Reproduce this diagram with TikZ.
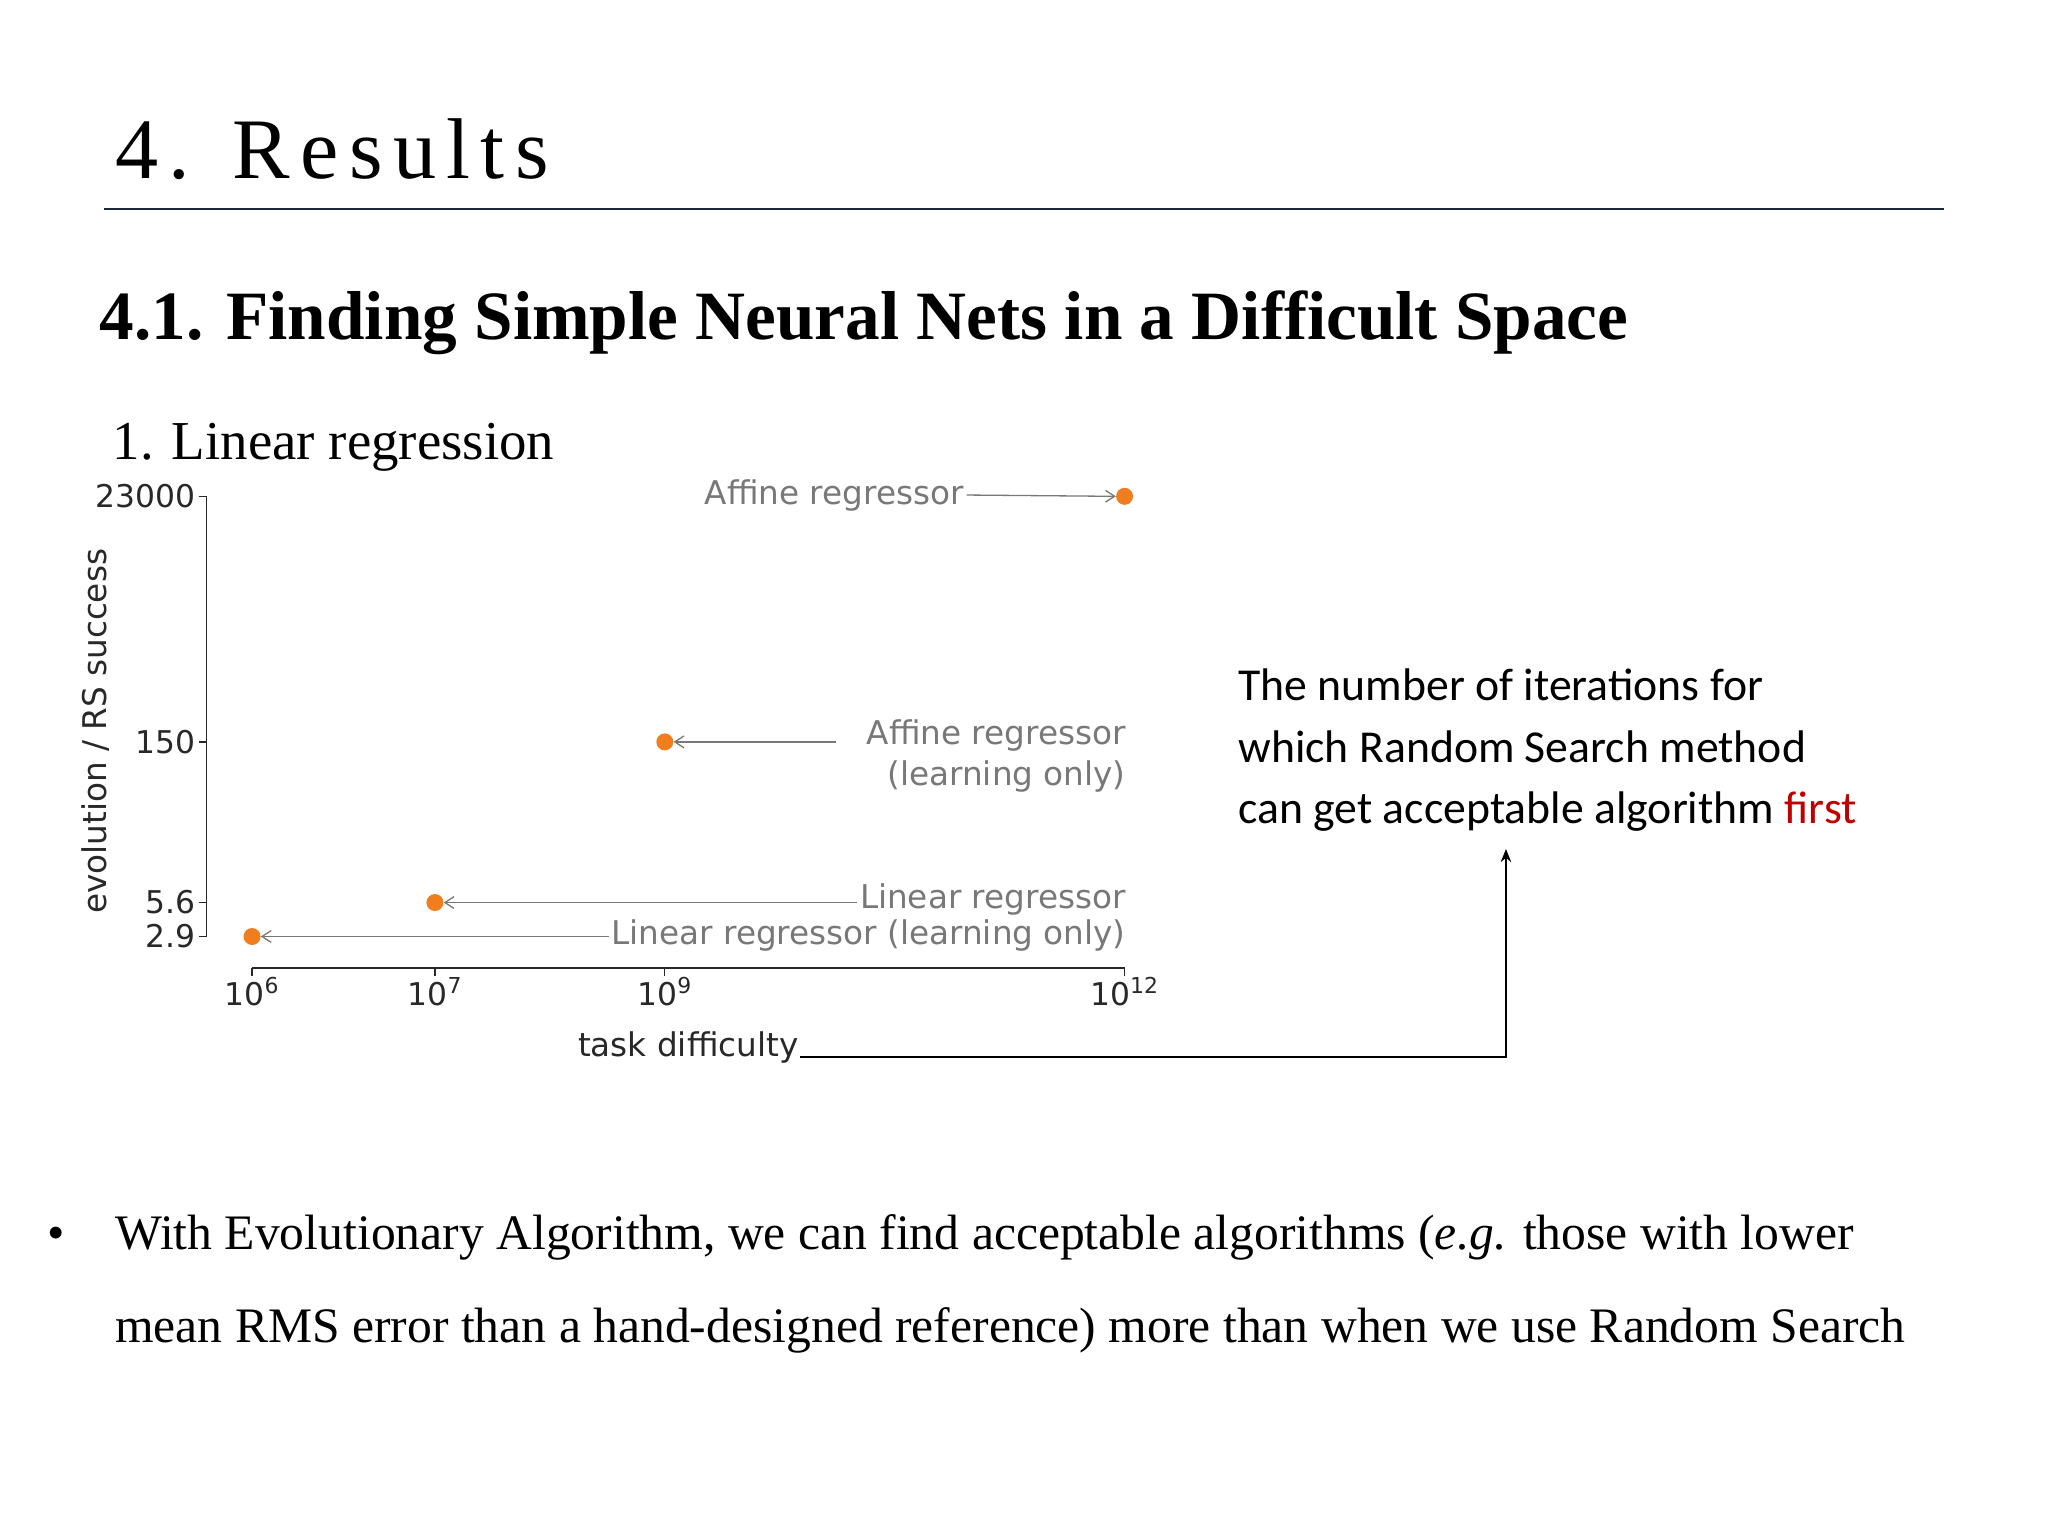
\documentclass[tikz,border=0pt]{standalone}
\usepackage{fontspec}
\setmainfont{Liberation Serif}
\newfontfamily\plotf{DejaVu Sans}
\newfontfamily\calf{Carlito}
\newfontfamily\titf[LetterSpace=12]{Liberation Serif}
\usetikzlibrary{arrows.meta}
\definecolor{axgray}{RGB}{40,40,40}
\definecolor{lblgray}{RGB}{120,120,120}
\definecolor{dotor}{RGB}{240,125,30}
\definecolor{navy}{RGB}{30,40,60}
\definecolor{redw}{RGB}{192,0,0}
\begin{document}
\begin{tikzpicture}[x=1pt,y=-1pt,
  tick/.style={font=\plotf\fontsize{24}{28}\selectfont,text=axgray},
  ann/.style={font=\plotf\fontsize{25}{31}\selectfont,text=lblgray,inner sep=2pt},
  annarr/.style={draw=lblgray,line width=1pt,-{Straight Barb[length=7pt,width=9pt]}},
  dot/.style={circle,fill=dotor,inner sep=0pt,minimum size=13pt}]
\useasboundingbox (0,0) rectangle (1568,1176);
\fill[white] (0,0) rectangle (1568,1176);
% titles
\node[anchor=base west,inner sep=0pt,font=\titf\fontsize{66}{70}\selectfont] (title) at (88,137) {4. Results};
\draw[navy,line width=1.2pt] (80,160) -- (1488,160);
\node[anchor=base west,inner sep=0pt,font=\bfseries\fontsize{53}{60}\selectfont] (sec) at (76,260) {4.1. Finding Simple Neural Nets in a Difficult Space};
\node[anchor=base west,inner sep=0pt,font=\fontsize{42}{48}\selectfont] (sub) at (86,352) {1. Linear regression};
% axes
\draw[axgray,line width=1.2pt] (158,380) -- (158,717);
\draw[axgray,line width=1.2pt] (193,741) -- (861,741);
\foreach \y/\l in {380/23000,568/150,691/5.6,717/2.9}{
  \draw[axgray,line width=1pt] (152,\y) -- (158,\y);
  \node[tick,anchor=east,inner sep=2pt] at (152,\y) {\l};}
\foreach \x/\l in {193/6,333/7,509/9,861/12}{
  \draw[axgray,line width=1pt] (\x,741) -- (\x,747);
  \node[tick,anchor=north,inner sep=2pt] at (\x,746) {10\textsuperscript{\l}};}
\node[tick,rotate=90,font=\plotf\fontsize{25}{30}\selectfont] (ylab) at (73,560) {evolution / RS success};
\node[tick,font=\plotf\fontsize{25}{30}\selectfont,inner sep=1pt] (xlab) at (527,802) {task difficulty};
% points
\node[dot] (p1) at (861,380) {};
\node[dot] (p2) at (509,568) {};
\node[dot] (p3) at (333,691) {};
\node[dot] (p4) at (193,717) {};
% annotations
\node[ann,anchor=east] (a1) at (740,379) {Affine regressor};
\draw[annarr] (a1.east) -- (p1.west);
\node[ann,anchor=north east,align=right] (a2) at (864,549) {Affine regressor\\(learning only)};
\coordinate (a2l) at (640,568);
\draw[annarr] (a2l) -- (p2.east);
\node[ann,anchor=east] (a3) at (864,689) {Linear regressor};
\draw[annarr] (a3.west |- p3) -- (p3.east);
\node[ann,anchor=east] (a4) at (864,716) {Linear regressor (learning only)};
\draw[annarr] (a4.west |- p4) -- (p4.east);
% right text
\node[anchor=north west,align=left,inner sep=0pt,font=\calf\fontsize{35}{47}\selectfont] (note) at (948,512)
  {The number of iterations for\\which Random Search method\\can get acceptable algorithm \textcolor{redw}{first}};
\coordinate (turn) at (1153,809);
\coordinate (tip) at (1153,650);
\draw[black,line width=1.5pt,-{Stealth[length=10pt,width=8pt]}] (xlab.east |- turn) -- (turn) -- (tip);
% bullet
\node[anchor=base,inner sep=0pt,font=\fontsize{38}{40}\selectfont] (bul) at (43,957) {•};
\node[anchor=base west,inner sep=0pt,font=\fontsize{38}{40}\selectfont] (b1) at (88,957) {With Evolutionary Algorithm, we can find acceptable algorithms (\textit{e.g.} those with lower};
\node[anchor=base west,inner sep=0pt,font=\fontsize{38}{40}\selectfont] (b2) at (88,1028) {mean RMS error than a hand-designed reference) more than when we use Random Search};
\end{tikzpicture}
\end{document}
